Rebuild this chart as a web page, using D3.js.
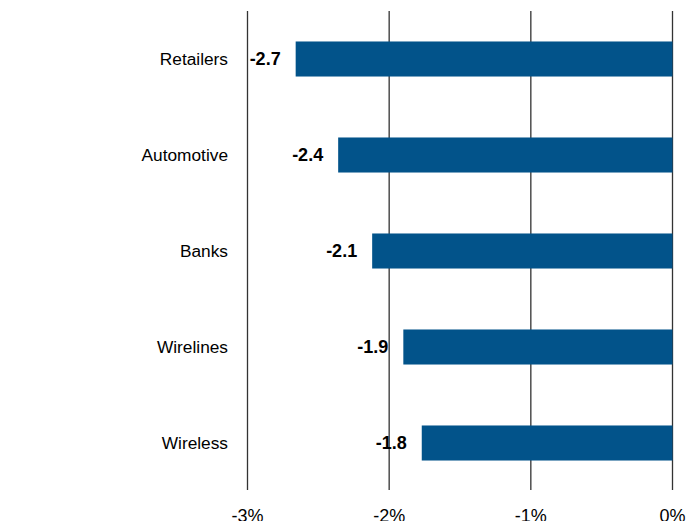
<!DOCTYPE html>
<html>
<head>
<meta charset="utf-8">
<script src="https://cdn.jsdelivr.net/npm/d3@7"></script>
<style>
body { margin: 0; background: #fff; }
svg { display: block; font-family: "Liberation Sans Narrow", "Arial Narrow", "Liberation Sans", Arial, sans-serif; }
</style>
</head>
<body>
<svg></svg>
<script>
const width = 697;
const height = 521;

const categories = ['Retailers', 'Automotive', 'Banks', 'Wirelines', 'Wireless'];
const values = [-2.66, -2.36, -2.12, -1.9, -1.77];
const valueLabels = ['-2.7', '-2.4', '-2.1', '-1.9', '-1.8'];
const ticks = [-3, -2, -1, 0];
const tickLabels = ['-3%', '-2%', '-1%', '0%'];

var svg = d3.select('svg').attr('width', width).attr('height', height);

var xScale = d3.scaleLinear().domain([-3, 0]).range([247.5, 672.5]);
var yScale = d3.scaleBand().domain(categories).range([11, 491]).paddingInner(0.635).paddingOuter(0.3175);

// gridlines
svg.append('g').selectAll('line')
	.data(ticks).enter().append('line')
	.attr('x1', d => xScale(d)).attr('x2', d => xScale(d))
	.attr('y1', 11).attr('y2', 490)
	.style('stroke', '#333').style('stroke-width', 1.3);

// bars
var data = categories.map((c, i) => ({cat: c, v: values[i], label: valueLabels[i]}));

svg.append('g').selectAll('rect')
	.data(data).enter().append('rect')
	.attr('x', d => xScale(d.v)).attr('y', d => yScale(d.cat))
	.attr('width', d => xScale(0) - xScale(d.v))
	.attr('height', yScale.bandwidth())
	.style('fill', '#02538A');

// value labels
svg.append('g').selectAll('text')
	.data(data).enter().append('text')
	.attr('x', d => xScale(d.v) - 15)
	.attr('y', d => yScale(d.cat) + yScale.bandwidth() / 2)
	.attr('dy', '0.36em')
	.attr('text-anchor', 'end')
	.style('font-size', '18px').style('font-weight', 'bold')
	.text(d => d.label);

// category labels
svg.append('g').selectAll('text')
	.data(data).enter().append('text')
	.attr('x', 228)
	.attr('y', d => yScale(d.cat) + yScale.bandwidth() / 2)
	.attr('dy', '0.36em')
	.attr('text-anchor', 'end')
	.style('font-size', '17.3px')
	.text(d => d.cat);

// tick labels (clipped at the bottom edge, as in the original)
svg.append('g').selectAll('text')
	.data(ticks).enter().append('text')
	.attr('x', d => xScale(d))
	.attr('y', 522)
	.attr('text-anchor', 'middle')
	.style('font-size', '18px')
	.text((d, i) => tickLabels[i]);
</script>
</body>
</html>
